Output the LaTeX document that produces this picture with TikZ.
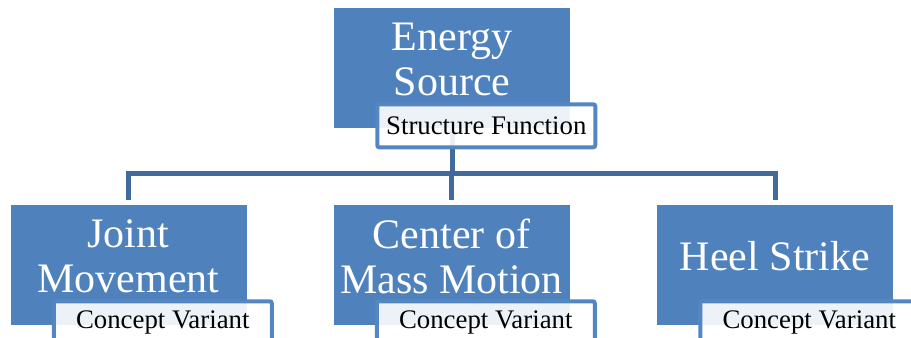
\documentclass[tikz,border=0pt]{standalone}
\usepackage{fontspec}
\setmainfont{Liberation Serif}
\usetikzlibrary{positioning, calc}
\definecolor{smBlue}{RGB}{79,129,189}
\definecolor{smLink}{RGB}{64,106,156}
\definecolor{smEdge}{RGB}{84,134,194}

\begin{document}
\begin{tikzpicture}[x=0.75pt, y=0.75pt,
  unitbox/.style={fill=smBlue, text=white, inner sep=0pt,
    minimum width=177pt, minimum height=90pt, align=center,
    text depth=13.5pt, font=\fontsize{31.5}{33.5}\selectfont},
  tagbox/.style={draw=smEdge, line width=3pt, rounded corners=1.5pt,
    fill=white, fill opacity=0.9, text opacity=1, inner sep=0pt,
    minimum width=163.5pt, minimum height=32.25pt, anchor=north east,
    font=\fontsize{20.1}{22}\selectfont},
  link/.style={draw=smLink, line width=3.75pt, shorten >=3.75pt}]
  \useasboundingbox (0,0) rectangle (911,338);
  \clip (0,0) rectangle (911,338);

  % ---- Boxes ----
  \node[unitbox] (energy) at (452,270)   {Energy\\Source};
  \node[unitbox] (joint)  at (128.5,73)  {Joint\\Movement};
  \node[unitbox] (mass)   at (451.5,73)  {Center of\\Mass Motion};
  \node[unitbox] (heel)   at (775,73)    {Heel Strike};

  % ---- Connectors (drawn under the tags) ----
  \coordinate (bus) at (0,164);
  \foreach \kid in {joint, mass, heel}
    \draw[link] (energy.south) -- (energy.south |- bus) -| (\kid.north);

  % ---- Tags ----
  \node[tagbox] (energyTag) at ([shift={(27,26)}]energy.south east) {Structure Function};
  \node[tagbox] (jointTag)  at ([shift={(27,26)}]joint.south east)  {Concept Variant};
  \node[tagbox] (massTag)   at ([shift={(27,26)}]mass.south east)   {Concept Variant};
  \node[tagbox] (heelTag)   at ([shift={(27,26)}]heel.south east)   {Concept Variant};
\end{tikzpicture}
\end{document}
